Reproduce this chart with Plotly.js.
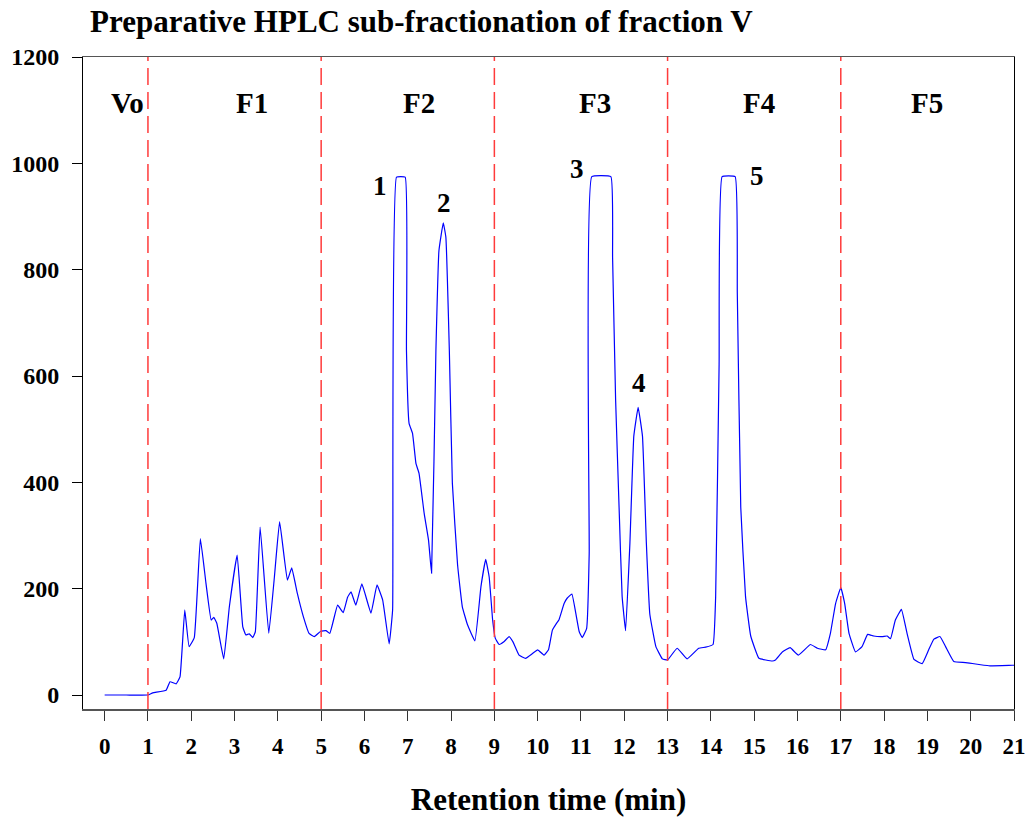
<!DOCTYPE html>
<html>
<head>
<meta charset="utf-8">
<script src="https://cdn.plot.ly/plotly-3.0.1.min.js"></script>
<style>html,body{margin:0;padding:0;background:#fff;}#chart{width:1031px;height:821px;}</style>
</head>
<body>
<div id="chart"></div>
<script>
const time = [0, 0.5, 1.0, 1.11, 1.42, 1.51, 1.65, 1.74, 1.85, 1.95, 2.07, 2.21, 2.34, 2.46, 2.52, 2.59, 2.75, 2.88, 3.06, 3.19, 3.26, 3.34, 3.42, 3.48, 3.59, 3.79, 3.92, 4.04, 4.22, 4.32, 4.45, 4.59, 4.72, 4.84, 4.99, 5.11, 5.20, 5.38, 5.51, 5.61, 5.69, 5.80, 5.94, 6.15, 6.29, 6.42, 6.57, 6.65, 6.74, 6.94, 6.97, 7.03, 7.11, 7.19, 7.26, 7.38, 7.48, 7.55, 7.65, 7.72, 7.82, 7.88, 7.96, 8.03, 8.15, 8.26, 8.38, 8.55, 8.69, 8.80, 8.88, 8.96, 9.02, 9.11, 9.22, 9.34, 9.43, 9.57, 9.72, 9.88, 10.0, 10.15, 10.25, 10.34, 10.42, 10.49, 10.61, 10.68, 10.79, 10.88, 10.96, 11.03, 11.13, 11.19, 11.25, 11.69, 11.73, 11.80, 11.88, 11.95, 12.03, 12.13, 12.22, 12.32, 12.42, 12.51, 12.59, 12.73, 12.88, 13.0, 13.22, 13.45, 13.72, 13.88, 14.05, 14.11, 14.19, 14.26, 14.56, 14.61, 14.69, 14.80, 14.92, 15.11, 15.42, 15.49, 15.65, 15.83, 16.02, 16.30, 16.46, 16.65, 16.76, 16.88, 17.0, 17.09, 17.19, 17.34, 17.49, 17.62, 17.76, 17.96, 18.07, 18.15, 18.26, 18.40, 18.53, 18.69, 18.88, 19.03, 19.15, 19.29, 19.42, 19.61, 19.88, 20.42, 20.96, 21.0];
const absorbance = [0, 0, 0, 4, 9, 25, 21, 34, 160, 91, 108, 294, 210, 141, 146, 135, 68, 166, 263, 128, 113, 115, 108, 119, 316, 116, 222, 326, 216, 239, 191, 147, 116, 110, 120, 121, 116, 169, 155, 184, 194, 169, 209, 154, 207, 179, 96, 160, 974, 974, 648, 511, 492, 435, 417, 341, 291, 229, 648, 836, 888, 861, 648, 398, 245, 166, 132, 102, 204, 255, 222, 141, 107, 95, 100, 110, 100, 75, 69, 78, 85, 75, 85, 122, 133, 141, 172, 182, 190, 154, 119, 108, 125, 266, 975, 975, 823, 555, 353, 186, 121, 286, 487, 541, 487, 286, 152, 91, 68, 66, 88, 68, 88, 90, 95, 185, 622, 975, 975, 756, 353, 185, 111, 69, 64, 66, 81, 89, 75, 95, 88, 85, 116, 172, 202, 172, 116, 81, 91, 114, 111, 110, 111, 106, 141, 161, 116, 67, 59, 85, 105, 110, 91, 63, 61, 55, 56, 56];

const fractionBounds = [1, 5, 9, 13, 17];
const fractionLabels = ["Vo", "F1", "F2", "F3", "F4", "F5"];
const fractionLabelX = [0.52, 3.41, 7.26, 11.32, 15.11, 18.99];
const fractionLabelY = 1113;

const peakLabels = ["1", "2", "3", "4", "5"];
const peakLabelX = [6.36, 7.84, 10.91, 12.34, 15.06];
const peakLabelY = [957, 925, 990, 586, 977];

const xTicks = Array.from({length: 22}, (_, i) => i);
const yTicks = [0, 200, 400, 600, 800, 1000, 1200];

const FONT = "'Liberation Serif', 'Times New Roman', serif";

const shapes = fractionBounds.map(b => ({
  type: 'line', xref: 'x', yref: 'paper', x0: b, x1: b, y0: 0, y1: 1,
  line: {color: '#ff3b3b', width: 1.5, dash: '17px,7px'}
}));

const annotations = [];
fractionLabels.forEach((t, i) => annotations.push({
  x: fractionLabelX[i], y: fractionLabelY, xref: 'x', yref: 'y', text: '<b>' + t + '</b>',
  showarrow: false, font: {family: FONT, size: 29, color: '#000'}
}));
peakLabels.forEach((t, i) => annotations.push({
  x: peakLabelX[i], y: peakLabelY[i], xref: 'x', yref: 'y', text: '<b>' + t + '</b>',
  showarrow: false, font: {family: FONT, size: 27, color: '#000'}
}));

const trace = {
  x: time, y: absorbance, type: 'scatter', mode: 'lines',
  line: {color: '#0000ff', width: 1.2, shape: 'spline', smoothing: 0.3}, hoverinfo: 'x+y'
};

const layout = {
  width: 1031, height: 821,
  margin: {l: 83, r: 17, t: 57, b: 112},
  paper_bgcolor: '#fff', plot_bgcolor: '#fff',
  showlegend: false,
  title: {
    text: '<b>Preparative HPLC sub-fractionation of fraction V</b>',
    font: {family: FONT, size: 31, color: '#000'},
    xref: 'container', yref: 'container', x: 90/1031, xanchor: 'left',
    y: 1 - 21/821, yanchor: 'middle'
  },
  xaxis: {
    range: [-0.5, 21], tickvals: xTicks, ticktext: xTicks.map(v => '<b>' + v + '</b>'),
    ticks: 'outside', ticklen: 10, tickwidth: 1, tickcolor: '#333', ticklabelstandoff: 6,
    showline: true, linecolor: '#555', linewidth: 1.5, mirror: true,
    showgrid: false, zeroline: false,
    tickfont: {family: FONT, size: 23, color: '#000'},
    title: {text: '<b>Retention time (min)</b>', font: {family: FONT, size: 31, color: '#000'}, standoff: 30}
  },
  yaxis: {
    range: [-26.3, 1200], tickvals: yTicks, ticktext: yTicks.map(v => '<b>' + v + '</b>'),
    ticks: 'outside', ticklen: 10, tickwidth: 1, tickcolor: '#000', ticklabelstandoff: 8,
    showline: true, linecolor: '#000', linewidth: 1, mirror: true,
    showgrid: false, zeroline: false,
    tickfont: {family: FONT, size: 24, color: '#000'}
  },
  shapes: shapes,
  annotations: annotations
};

Plotly.newPlot('chart', [trace], layout, {displayModeBar: false, staticPlot: true});
</script>
</body>
</html>
